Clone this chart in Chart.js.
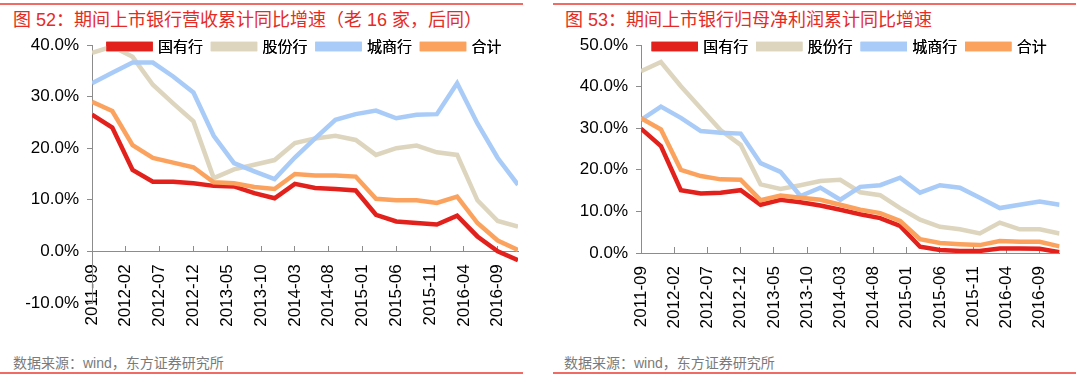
<!DOCTYPE html>
<html>
<head>
<meta charset="utf-8">
<script src="https://cdn.jsdelivr.net/npm/chart.js@4"></script>
<style>
  body { margin: 0; width: 1080px; height: 382px; background: #fff; position: relative; overflow: hidden;
         font-family: "Liberation Sans", "Noto Sans CJK SC", sans-serif; }
  .rule { position: absolute; height: 2px; background: #ee6b66; }
  .title { position: absolute; top: 5px; font-size: 18px; color: #e52b25; white-space: pre; }
  .src { position: absolute; top: 352px; font-size: 14px; color: #7a7a7a; }
  canvas { position: absolute; top: 25px; }
</style>
</head>
<body>
<div class="rule" style="left:0;width:523px;top:3px"></div>
<div class="rule" style="left:553px;width:523px;top:3px"></div>
<div class="title" style="left:13px">图 52：期间上市银行营收累计同比增速（老 16 家，后同）</div>
<div class="title" style="left:565px">图 53：期间上市银行归母净利润累计同比增速</div>
<canvas id="chart1" width="540" height="315" style="left:0"></canvas>
<canvas id="chart2" width="540" height="315" style="left:540px"></canvas>
<div class="src" style="left:13px">数据来源：wind，东方证券研究所</div>
<div class="src" style="left:564px">数据来源：wind，东方证券研究所</div>
<div class="rule" style="left:0;width:523px;top:372px"></div>
<div class="rule" style="left:553px;width:523px;top:372px"></div>
<script>
// quarterly dates
var quarters = ['2011-09','2011-12','2012-03','2012-06','2012-09','2012-12','2013-03','2013-06','2013-09','2013-12',
  '2014-03','2014-06','2014-09','2014-12','2015-03','2015-06','2015-09','2015-12','2016-03','2016-06','2016-09','2016-12'];
var seriesNames = ['国有行', '股份行', '城商行', '合计'];
var seriesColors = ['#e2211c', '#ded5bf', '#a9cbf8', '#fba35e'];

// 图52 营收累计同比 (%)
var revState  = [26.5, 24.0, 15.8, 13.5, 13.5, 13.2, 12.7, 12.6, 11.3, 10.3, 13.1, 12.3, 12.1, 11.8, 7.1, 5.8, 5.5, 5.2, 6.9, 2.9, 0.0, -1.7];
var revJoint  = [38.5, 39.7, 37.7, 32.3, 28.7, 25.2, 14.2, 15.9, 16.8, 17.7, 21.0, 21.9, 22.4, 21.6, 18.7, 20.0, 20.5, 19.2, 18.7, 9.9, 5.9, 4.8];
var revCity   = [32.6, 34.6, 36.6, 36.6, 33.9, 30.8, 22.4, 17.1, 15.5, 14.0, 18.2, 21.9, 25.5, 26.6, 27.3, 25.8, 26.5, 26.6, 32.6, 24.8, 18.1, 12.9];
var revTotal  = [29.0, 27.2, 20.6, 18.1, 17.2, 16.3, 13.4, 13.2, 12.5, 12.1, 15.0, 14.7, 14.7, 14.5, 10.2, 9.9, 9.9, 9.4, 10.6, 5.5, 2.1, 0.3];

// 图53 归母净利润累计同比 (%)
var npState   = [29.9, 25.7, 15.1, 14.3, 14.5, 15.1, 11.6, 12.8, 12.2, 11.4, 10.4, 9.3, 8.4, 6.5, 1.5, 0.7, 0.5, 0.5, 1.1, 1.1, 1.0, 0.2];
var npJoint   = [43.7, 45.9, 40.1, 34.8, 29.5, 26.0, 16.5, 15.4, 16.3, 17.3, 17.6, 14.6, 13.9, 10.8, 8.0, 6.3, 5.7, 4.7, 7.3, 5.7, 5.7, 4.7];
var npCity    = [32.0, 35.2, 32.5, 29.3, 28.9, 28.7, 21.6, 19.5, 13.7, 15.7, 12.8, 15.9, 16.3, 18.1, 14.5, 16.3, 15.7, 13.3, 10.8, 11.6, 12.4, 11.6];
var npTotal   = [32.4, 29.7, 20.0, 18.5, 17.7, 17.6, 12.7, 13.8, 13.3, 12.8, 11.6, 10.4, 9.6, 7.7, 3.3, 2.4, 2.1, 1.9, 2.9, 2.7, 2.7, 1.6];

// months since 2011-09, date axis ticks every 5 months
function monthIndex(s) {
  var p = s.split('-');
  return (parseInt(p[0]) - 2011) * 12 + parseInt(p[1]) - 9;
}
function monthLabel(m) {
  var t = 2011 * 12 + 8 + m;
  var y = Math.floor(t / 12), mo = t % 12 + 1;
  return y + '-' + (mo < 10 ? '0' : '') + mo;
}

var axisColor = '#8c8c8c';
var tickFont = { family: 'Liberation Sans', size: 17 };

// legend takes no room, sits on the top edge of the plot, drawn over the lines
var legendLift = {
  id: 'legendLift',
  beforeLayout: function (chart) {
    var lg = chart.legend;
    if (lg && !lg._lifted) {
      var fit = lg.fit;
      lg.fit = function () { fit.call(this); this._realHeight = this.height; this.height = 0; };
      lg._lifted = true;
    }
  },
  beforeDraw: function (chart) {
    var lg = chart.legend;
    lg.top = chart.chartArea.top - 16;
    lg.height = lg._realHeight;
    lg.bottom = lg.top + lg.height;
  },
  afterDatasetsDraw: function (chart) {
    chart.legend.draw();
  }
};

function makeChart(id, lists, yMin, yMax, yAxisWidth, padRight, zeroAxis) {
  var datasets = lists.map(function (vals, i) {
    return {
      label: seriesNames[i],
      data: vals.map(function (v, j) { return { x: monthIndex(quarters[j]), y: v }; }),
      borderColor: seriesColors[i],
      backgroundColor: seriesColors[i],
      borderWidth: 4.5,
      pointRadius: 0,
      tension: 0,
      order: 3 - i
    };
  });

  var xScale = {
    type: 'linear',
    min: 0,
    max: monthIndex(quarters[quarters.length - 1]),
    grid: { display: true, drawOnChartArea: false, tickLength: -6, color: axisColor },
    border: { color: axisColor, width: 1 },
    afterBuildTicks: function (s) {
      s.ticks = s.ticks.filter(function (t) { return t.value % 5 === 0; });
    },
    ticks: {
      stepSize: 5,
      autoSkip: false,
      minRotation: 90,
      maxRotation: 90,
      padding: 19,
      color: '#000',
      font: tickFont,
      callback: function (v) { return monthLabel(v); }
    }
  };
  if (zeroAxis) {
    xScale.position = { y: 0 };
  } else {
    xScale.position = 'bottom';
    xScale.afterFit = function (s) { s.height = 87; };
  }

  return new Chart(document.getElementById(id), {
    type: 'line',
    data: { datasets: datasets },
    options: {
      responsive: false,
      animation: false,
      layout: { padding: { left: 0, right: padRight, top: 20, bottom: zeroAxis ? 37 : 0 } },
      plugins: {
        legend: {
          position: 'top',
          fullSize: false,
          labels: {
            boxWidth: 42,
            boxHeight: 5,
            padding: 10,
            color: '#000',
            font: { family: 'Noto Sans CJK SC', size: 15 },
            sort: function (a, b) { return a.datasetIndex - b.datasetIndex; }
          }
        },
        tooltip: { enabled: false }
      },
      scales: {
        x: xScale,
        y: {
          min: yMin,
          max: yMax,
          grid: { display: true, drawOnChartArea: false, tickLength: 5, color: axisColor },
          border: { color: axisColor, width: 1 },
          afterFit: function (s) { s.width = yAxisWidth; },
          ticks: {
            stepSize: 10,
            padding: 8,
            color: '#000',
            font: tickFont,
            callback: function (v) { return v.toFixed(1) + '%'; }
          }
        }
      }
    },
    plugins: [legendLift]
  });
}

makeChart('chart1', [revState, revJoint, revCity, revTotal], -10, 40, 92, 22, true);
makeChart('chart2', [npState, npJoint, npCity, npTotal], 0, 50, 101, 20, false);
</script>
</body>
</html>
